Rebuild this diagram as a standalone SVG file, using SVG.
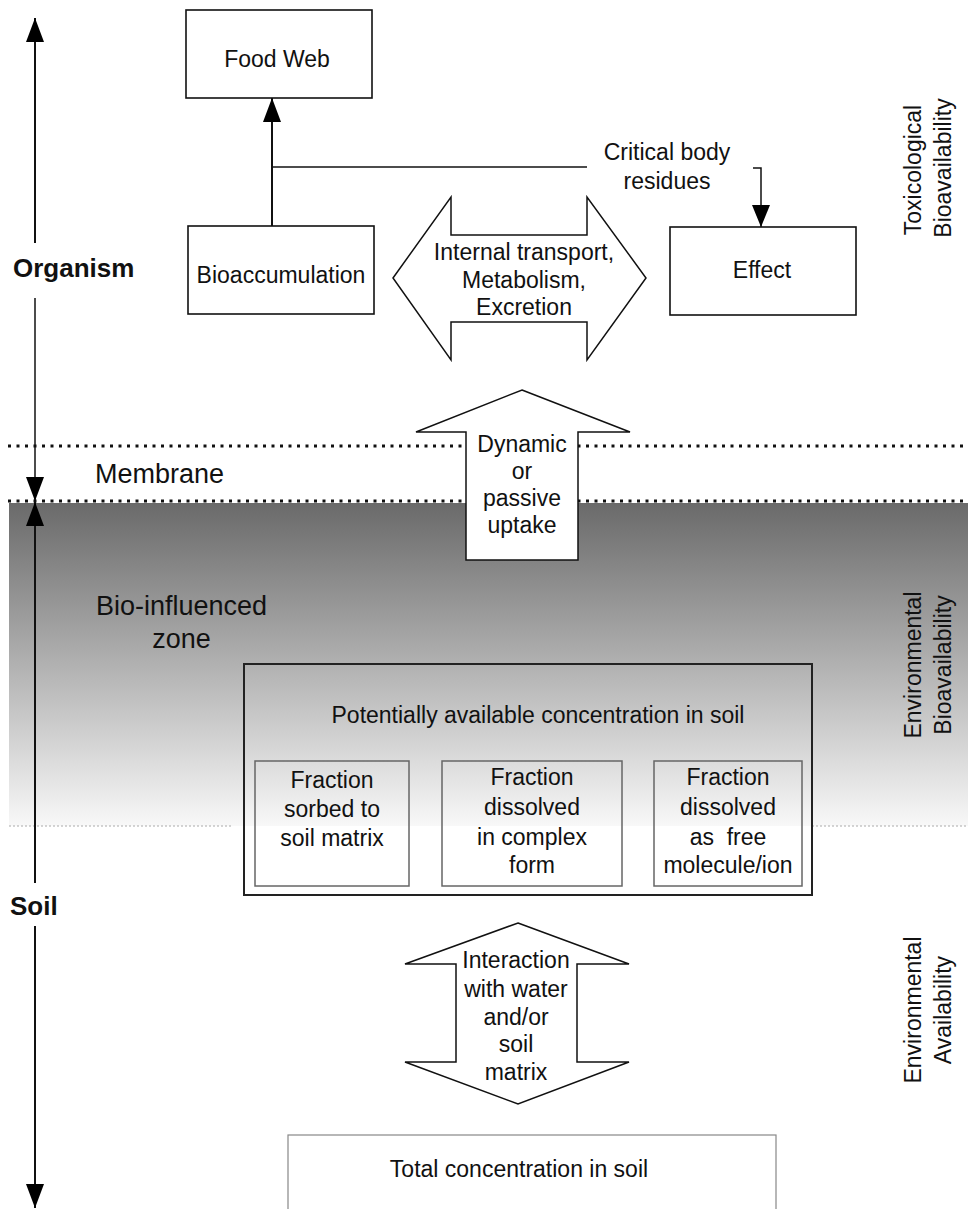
<svg xmlns="http://www.w3.org/2000/svg" width="968" height="1209" viewBox="0 0 968 1209">
<style>
text{font-family:"Liberation Sans",Arial,sans-serif;fill:#111;}
.t{font-size:23px;text-anchor:middle;}
.big{font-size:27px;}
.bold{font-size:26px;font-weight:bold;}
.box{fill:#fff;stroke:#111;stroke-width:1.6;}
.ibox{fill:none;stroke:#666;stroke-width:1.5;}
.arr{fill:#fff;stroke:#111;stroke-width:1.5;stroke-linejoin:miter;}
.ln{fill:none;stroke:#111;stroke-width:2;}
.ln1{fill:none;stroke:#111;stroke-width:1.5;}
.dot{stroke:#111;stroke-width:3;stroke-dasharray:3 5.5;}
</style>
<defs>
<linearGradient id="g" x1="0" y1="0" x2="0" y2="1">
<stop offset="0" stop-color="#6a6a6a"/>
<stop offset="1" stop-color="#f8f8f8"/>
</linearGradient>
<marker id="ah" viewBox="0 0 24 18" refX="24" refY="9" markerWidth="24" markerHeight="18" orient="auto-start-reverse" markerUnits="userSpaceOnUse">
<path d="M0,0 L24,9 L0,18 z" fill="#000"/>
</marker>
<marker id="ahs" viewBox="0 0 22 18" refX="22" refY="9" markerWidth="22" markerHeight="18" orient="auto" markerUnits="userSpaceOnUse">
<path d="M0,0 L22,9 L0,18 z" fill="#000"/>
</marker>
</defs>
<rect width="968" height="1209" fill="#fff"/>
<g id="zones">
<rect x="9" y="503" width="959" height="323" fill="url(#g)"/>
<line x1="9" y1="826" x2="232" y2="826" stroke="#aaa" stroke-width="1" stroke-dasharray="2 2"/>
<line x1="812" y1="826" x2="968" y2="826" stroke="#aaa" stroke-width="1" stroke-dasharray="2 2"/>
<line class="dot" x1="8" y1="446" x2="968" y2="446"/>
<line class="dot" x1="8" y1="501" x2="968" y2="501"/>
<text class="big" x="95" y="483">Membrane</text>
<text class="big" x="181.5" y="615" text-anchor="middle">Bio-influenced</text>
<text class="big" x="181.5" y="648" text-anchor="middle">zone</text>
</g>
<g id="axis-labels">
<text class="bold" x="13" y="277">Organism</text>
<text class="bold" x="10" y="915">Soil</text>
</g>
<g id="side-labels">
<text class="t" transform="translate(921,170) rotate(-90)">Toxicological</text>
<text class="t" transform="translate(951,168) rotate(-90)">Bioavailability</text>
<text class="t" transform="translate(921,665) rotate(-90)">Environmental</text>
<text class="t" transform="translate(951,665) rotate(-90)">Bioavailability</text>
<text class="t" transform="translate(921,1010) rotate(-90)">Environmental</text>
<text class="t" transform="translate(951,1010) rotate(-90)">Availability</text>
</g>
<g id="connectors">
<line class="ln" x1="35" y1="243" x2="35" y2="18" marker-end="url(#ah)"/>
<line class="ln1" x1="35" y1="298" x2="35" y2="501" marker-end="url(#ah)"/>
<line class="ln" x1="35" y1="883" x2="35" y2="502" marker-end="url(#ah)"/>
<line class="ln" x1="35" y1="926" x2="35" y2="1208" marker-end="url(#ah)"/>
<line class="ln" x1="272" y1="226" x2="272" y2="98" marker-end="url(#ah)"/>
<line class="ln1" x1="272" y1="167" x2="587" y2="167"/>
<path class="ln1" d="M753,168 H761 V227" marker-end="url(#ahs)"/>
</g>
<g id="food-web">
<rect class="box" x="186" y="10" width="186" height="88"/>
<text class="t" x="277" y="67">Food Web</text>
</g>
<g id="bioaccumulation">
<rect class="box" x="188" y="226" width="186" height="88"/>
<text class="t" x="281" y="283">Bioaccumulation</text>
</g>
<g id="effect">
<rect class="box" x="670" y="227" width="186" height="88"/>
<text class="t" x="762" y="278">Effect</text>
</g>
<g id="critical-body-residues">
<text class="t" x="667" y="160">Critical body</text>
<text class="t" x="667" y="189">residues</text>
</g>
<g id="internal-transport">
<polygon class="arr" points="393,278 451,197 451,235 587,235 587,197 646,278 587,360 587,322 451,322 451,360"/>
<text class="t" x="524" y="260">Internal transport,</text>
<text class="t" x="524" y="288">Metabolism,</text>
<text class="t" x="524" y="315">Excretion</text>
</g>
<g id="uptake">
<polygon class="arr" points="522,390 630,432 578,432 578,560 466,560 466,432 416,432"/>
<text class="t" x="522" y="452">Dynamic</text>
<text class="t" x="522" y="479">or</text>
<text class="t" x="522" y="506">passive</text>
<text class="t" x="522" y="533">uptake</text>
</g>
<g id="potentially-available">
<rect x="244" y="664" width="568" height="231" fill="none" stroke="#222" stroke-width="2"/>
<text class="t" x="538" y="723">Potentially available concentration in soil</text>
</g>
<g id="fraction-sorbed">
<rect class="ibox" x="255" y="761" width="154" height="125"/>
<text class="t" x="332" y="788">Fraction</text>
<text class="t" x="332" y="817">sorbed to</text>
<text class="t" x="332" y="846">soil matrix</text>
</g>
<g id="fraction-complex">
<rect class="ibox" x="442" y="761" width="180" height="125"/>
<text class="t" x="532" y="785">Fraction</text>
<text class="t" x="532" y="815">dissolved</text>
<text class="t" x="532" y="845">in complex</text>
<text class="t" x="532" y="873">form</text>
</g>
<g id="fraction-free">
<rect class="ibox" x="654" y="761" width="148" height="125"/>
<text class="t" x="728" y="785">Fraction</text>
<text class="t" x="728" y="815">dissolved</text>
<text class="t" x="728" y="845" xml:space="preserve">as  free</text>
<text class="t" x="728" y="873">molecule/ion</text>
</g>
<g id="interaction">
<polygon class="arr" points="518,923 629,964 577,964 577,1062 629,1062 518,1104 405,1062 456,1062 456,964 405,964"/>
<text class="t" x="516" y="968">Interaction</text>
<text class="t" x="516" y="997">with water</text>
<text class="t" x="516" y="1025">and/or</text>
<text class="t" x="516" y="1052">soil</text>
<text class="t" x="516" y="1080">matrix</text>
</g>
<g id="total-concentration">
<rect x="288" y="1135" width="488" height="90" fill="#fff" stroke="#888" stroke-width="1.2"/>
<text class="t" x="519" y="1177">Total concentration in soil</text>
</g>
</svg>
